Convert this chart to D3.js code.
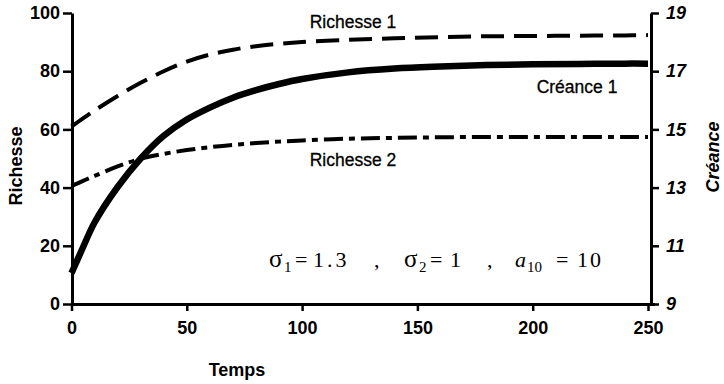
<!DOCTYPE html>
<html><head><meta charset="utf-8">
<script src="https://cdn.jsdelivr.net/npm/d3@7"></script>
<style>
body{margin:0;background:#fff;}
svg{display:block;}
.tick text{font-family:"Liberation Sans",Arial,sans-serif;font-weight:bold;}
</style></head>
<body><svg id="c" width="724" height="384"></svg>
<script>
const temps      = [0,5,10,20,30,40,50,60,70,80,90,100,120,140,160,180,200,220,240,250];
const richesse1  = [61,63.8,66.5,71.5,76,80,83.3,85.7,87.4,88.6,89.4,90,90.8,91.3,91.7,92,92.1,92.2,92.3,92.4];
const richesse2  = [40.5,42.3,44,47.3,49.9,51.6,52.9,53.9,54.7,55.3,55.8,56.2,56.8,57.1,57.3,57.4,57.4,57.4,57.4,57.4];
const creance1   = [10.06,10.95,11.8,13.02,14.0,14.78,15.34,15.75,16.09,16.35,16.56,16.73,16.96,17.09,17.16,17.21,17.24,17.25,17.26,17.26];
const xTicks     = [0,50,100,150,200,250];
const yLeftTicks = [0,20,40,60,80,100];
const yRightTicks= [9,11,13,15,17,19];

const svg = d3.select("#c");
const x  = d3.scaleLinear().domain([0,250]).range([71.5,648]);
const yL = d3.scaleLinear().domain([0,100]).range([304,13]);
const yR = d3.scaleLinear().domain([9,19]).range([304,13]);
const font = '"Liberation Sans",Arial,sans-serif';

function styleAxis(g){
  g.selectAll(".domain").attr("stroke","#000").attr("stroke-width",3);
  g.selectAll(".tick line").attr("stroke","#000").attr("stroke-width",2.5);
  g.selectAll(".tick text").attr("fill","#000").attr("font-size",18);
}

const gL = svg.append("g").attr("transform","translate(72,0)")
  .call(d3.axisLeft(yL).tickValues(yLeftTicks).tickSize(9).tickSizeOuter(0).tickPadding(3));
styleAxis(gL);

const gR = svg.append("g").attr("transform","translate(651,0)")
  .call(d3.axisRight(yR).tickValues(yRightTicks).tickSize(8).tickSizeOuter(0).tickPadding(7));
styleAxis(gR);
gR.selectAll(".tick text").attr("font-style","italic");

const gB = svg.append("g").attr("transform","translate(0,304)")
  .call(d3.axisBottom(x).tickValues(xTicks).tickSize(7).tickSizeOuter(0).tickPadding(10));
styleAxis(gB);
gB.select(".domain").attr("d","M72,0.5H655");

svg.append("text").attr("transform","translate(22,166) rotate(-90)")
  .attr("text-anchor","middle").attr("font-family",font).attr("font-weight","bold")
  .attr("font-size",18).text("Richesse");
svg.append("text").attr("transform","translate(719,157) rotate(-90)")
  .attr("text-anchor","middle").attr("font-family",font).attr("font-weight","bold")
  .attr("font-style","italic").attr("font-size",18).text("Créance");
svg.append("text").attr("x",237).attr("y",376)
  .attr("text-anchor","middle").attr("font-family",font).attr("font-weight","bold")
  .attr("font-size",18).text("Temps");

const curve = d3.curveCatmullRom.alpha(0.5);
const lineL = d3.line().x((d,i)=>x(temps[i])).y(d=>yL(d)).curve(curve);
const lineR = d3.line().x((d,i)=>x(temps[i])).y(d=>yR(d)).curve(curve);

svg.append("path").datum(richesse1).attr("d",lineL).attr("fill","none")
  .attr("stroke","#000").attr("stroke-width",4).attr("stroke-dasharray","23,10");
svg.append("path").datum(richesse2).attr("d",lineL).attr("fill","none")
  .attr("stroke","#000").attr("stroke-width",4).attr("stroke-dasharray","19,6,6,6");
svg.append("path").datum(creance1).attr("d",lineR).attr("fill","none")
  .attr("stroke","#000").attr("stroke-width",6.5).attr("stroke-linecap","butt");

function lab(t,xx,yy){
  svg.append("text").attr("x",xx).attr("y",yy).attr("text-anchor","middle")
    .attr("font-family",font).attr("font-size",17.5).attr("fill","#000")
    .attr("stroke","#000").attr("stroke-width",0.3).text(t);
}
lab("Richesse 1",353,28);
lab("Richesse 2",353,166);
lab("Créance 1",577,93);

const serif = '"Liberation Serif","Times New Roman",serif';
function piece(t,xx,opt){
  opt = opt||{};
  const e = svg.append("text").attr("x",xx).attr("y",opt.sub?272:267)
    .attr("font-family",serif).attr("font-size",opt.sub?15:(opt.fs||22)).attr("fill","#000").text(t);
  if(opt.it) e.attr("font-style","italic");
  if(opt.ls) e.attr("letter-spacing",opt.ls);
}
piece("σ",269,{fs:25}); piece("1",284,{sub:true}); piece("=",295); piece("1.3",313,{ls:3});
piece(",",374);
piece("σ",404,{fs:25}); piece("2",419,{sub:true}); piece("=",430); piece("1",450);
piece(",",487);
piece("a",515,{it:true}); piece("10",527,{sub:true}); piece("=",556); piece("10",577,{ls:2});
</script></body></html>
